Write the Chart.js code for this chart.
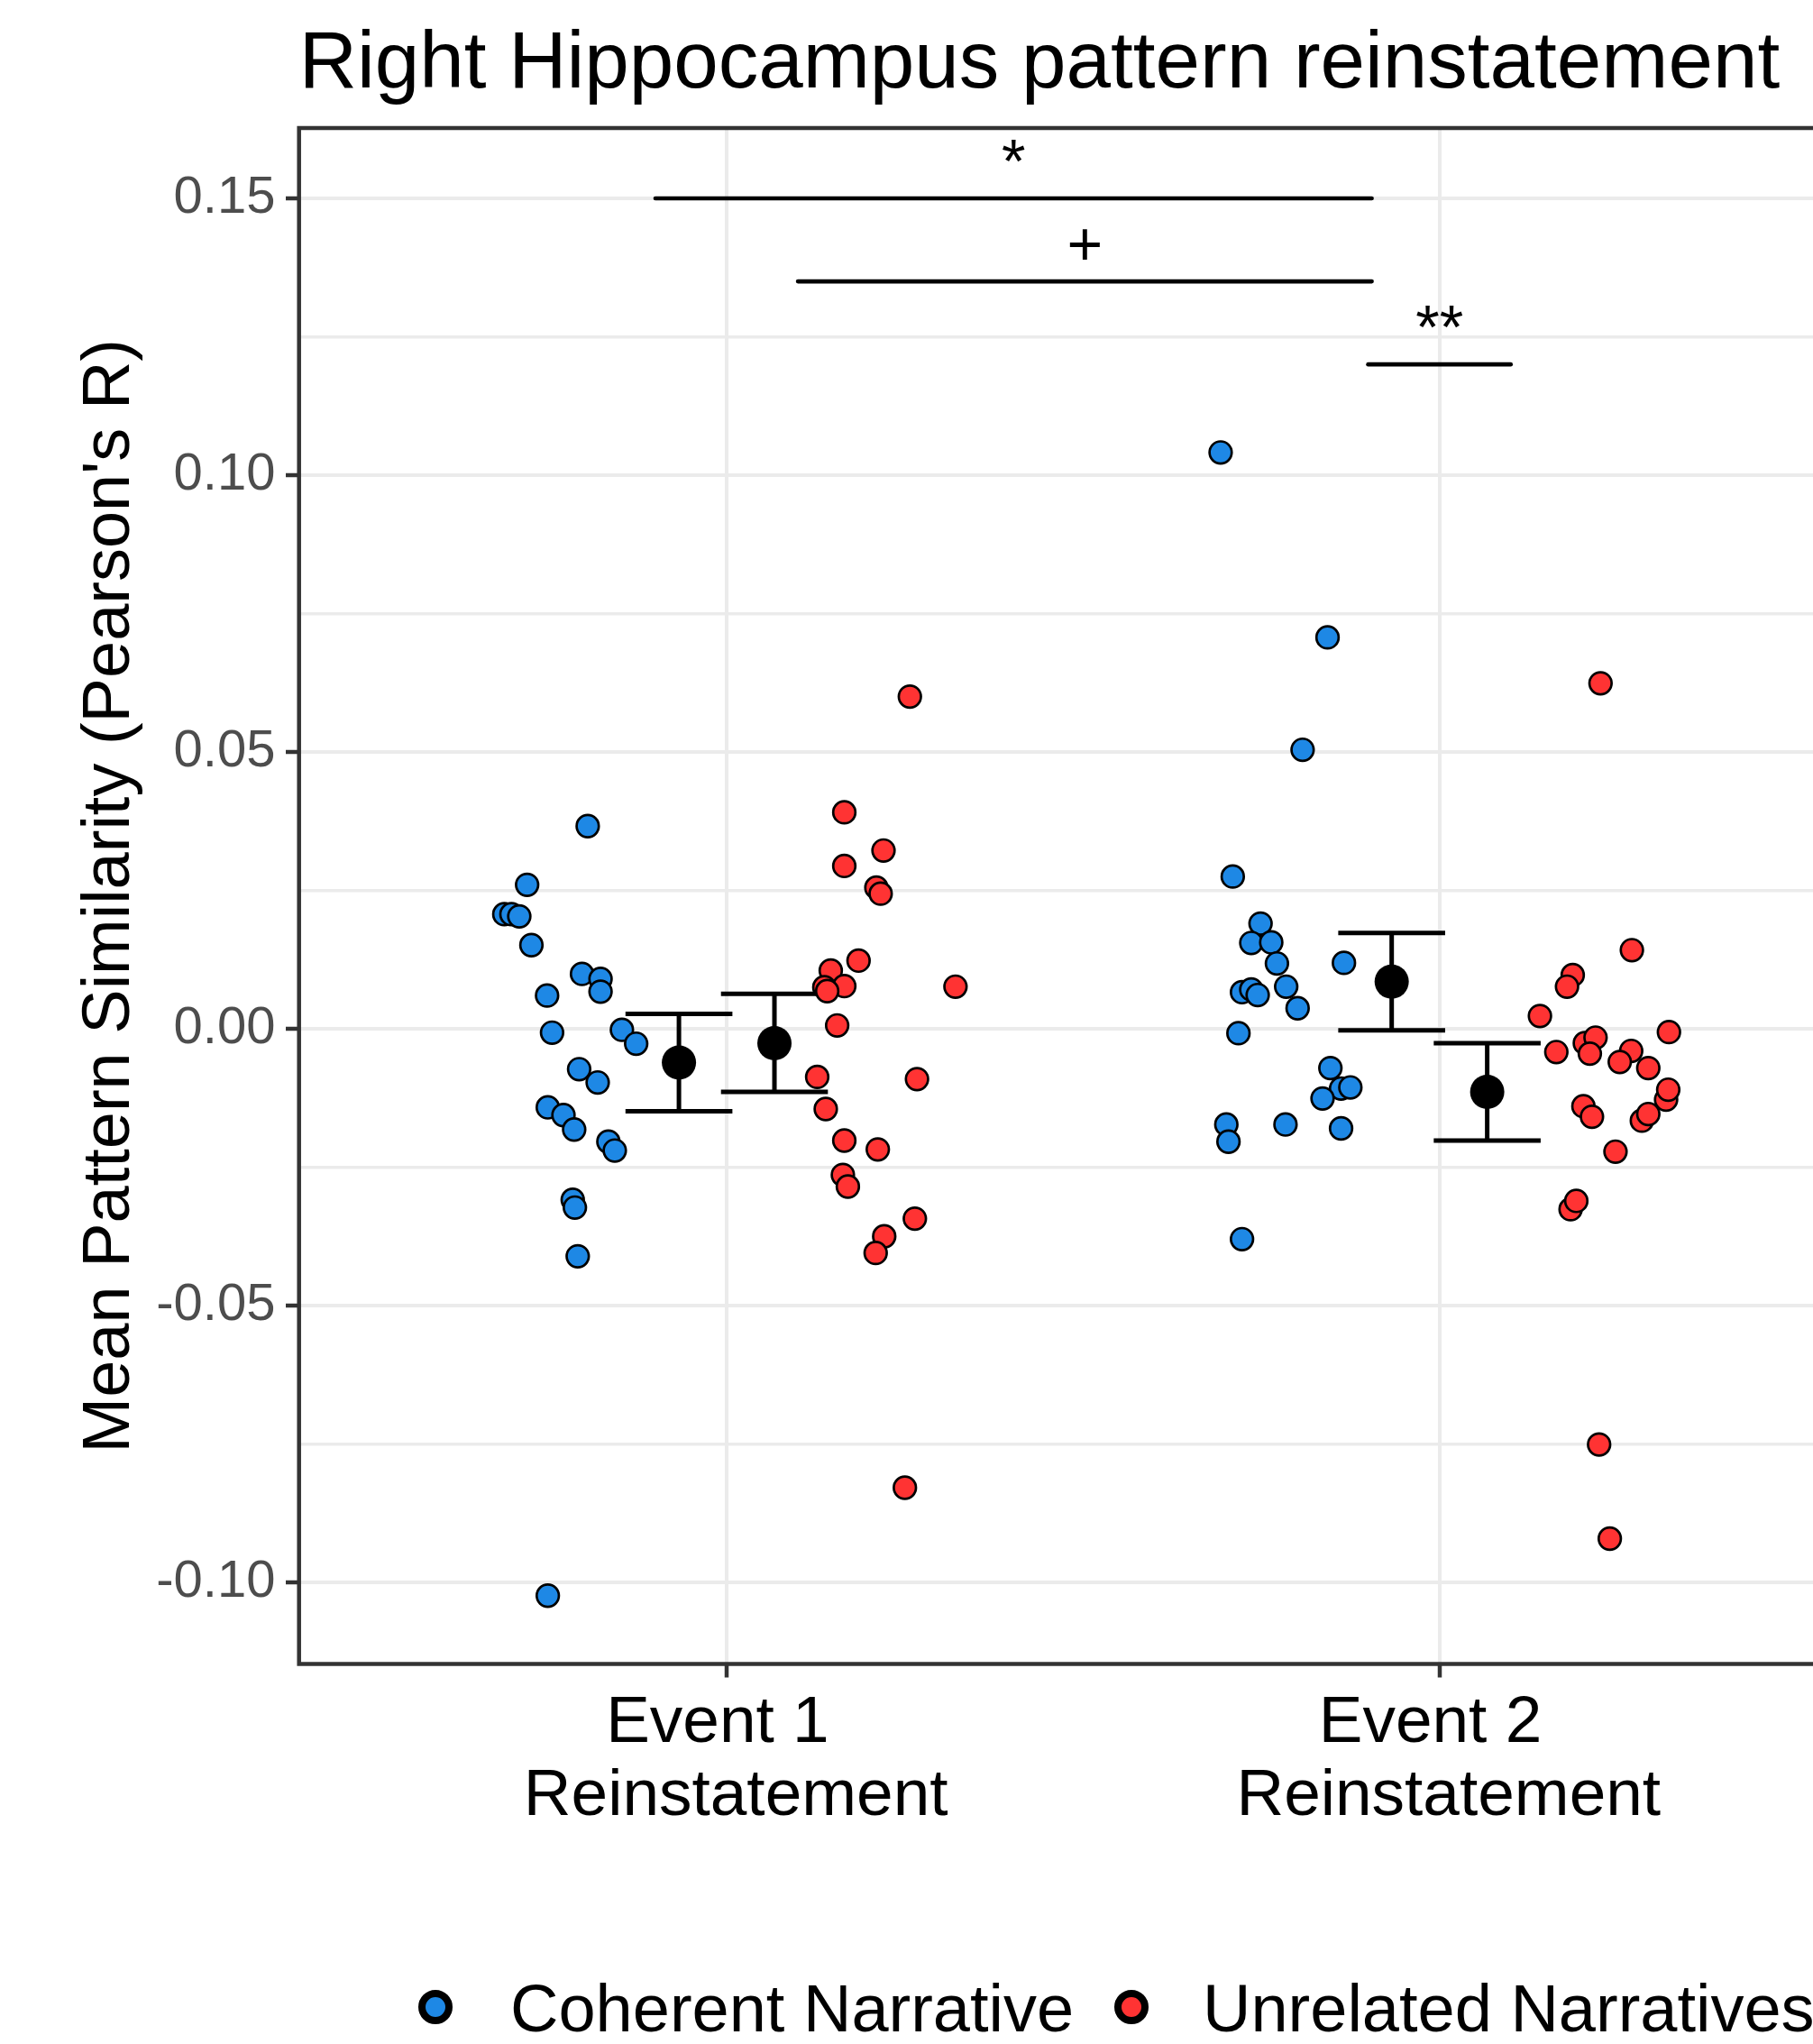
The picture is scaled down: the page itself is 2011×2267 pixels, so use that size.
<!DOCTYPE html>
<html>
<head>
<meta charset="utf-8">
<script src="https://cdn.jsdelivr.net/npm/chart.js@4.4.1/dist/chart.umd.min.js"></script>
<style>
  html, body { margin: 0; padding: 0; background: #fff; overflow: hidden; }
  canvas { display: block; }
</style>
</head>
<body>
<canvas id="chart" width="2090" height="2267"></canvas>
<script>
// categories on the x axis (1 = Event 1, 2 = Event 2)
const categories = [['Event 1 ', ' Reinstatement'], ['Event 2 ', ' Reinstatement']];
const categoryX = [1, 2];
const seriesNames = ['Coherent Narrative', 'Unrelated Narratives'];

// y axis ticks
const yTickValues = [-0.10, -0.05, 0.00, 0.05, 0.10, 0.15];
const yTickLabels = ['-0.10', '-0.05', '0.00', '0.05', '0.10', '0.15'];
const yMinorValues = [-0.075, -0.025, 0.025, 0.075, 0.125];

// jittered subject values
const coherentE1X = [0.805, 0.720, 0.688, 0.698, 0.709, 0.726, 0.797, 0.823, 0.823, 0.748, 0.755, 0.853,
                     0.873, 0.793, 0.819, 0.749, 0.771, 0.786, 0.834, 0.843, 0.784, 0.787, 0.791, 0.749];
const coherentE1Y = [0.0366, 0.0260, 0.0207, 0.0207, 0.0203, 0.0151, 0.0099, 0.0090, 0.0067, 0.0060, -0.0007, -0.0002,
                     -0.0027, -0.0073, -0.0097, -0.0142, -0.0156, -0.0182, -0.0204, -0.0220, -0.0309, -0.0323, -0.0411, -0.1024];

const unrelatedE1X = [1.257, 1.165, 1.220, 1.165, 1.210, 1.216, 1.185, 1.146, 1.165, 1.137, 1.141, 1.321,
                      1.155, 1.127, 1.267, 1.139, 1.165, 1.212, 1.163, 1.170, 1.264, 1.221, 1.209, 1.250];
const unrelatedE1Y = [0.0600, 0.0391, 0.0322, 0.0294, 0.0255, 0.0244, 0.0123, 0.0105, 0.0077, 0.0075, 0.0068, 0.0076,
                      0.0006, -0.0087, -0.0091, -0.0145, -0.0202, -0.0218, -0.0264, -0.0285, -0.0343, -0.0375, -0.0405, -0.0829];

const coherentE2X = [1.693, 1.843, 1.808, 1.710, 1.749, 1.736, 1.764, 1.772, 1.866, 1.723, 1.736, 1.745,
                     1.785, 1.801, 1.718, 1.847, 1.862, 1.875, 1.836, 1.701, 1.704, 1.784, 1.862, 1.723];
const coherentE2Y = [0.1041, 0.0707, 0.0504, 0.0275, 0.0190, 0.0155, 0.0156, 0.0118, 0.0119, 0.0066, 0.0071, 0.0061,
                     0.0076, 0.0037, -0.0008, -0.0071, -0.0108, -0.0106, -0.0126, -0.0173, -0.0204, -0.0173, -0.0180, -0.0380];

const unrelatedE2X = [2.270, 2.187, 2.179, 2.141, 2.322, 2.164, 2.204, 2.219, 2.211, 2.269, 2.253, 2.293,
                      2.318, 2.321, 2.202, 2.214, 2.284, 2.293, 2.247, 2.184, 2.192, 2.226, 2.224, 2.239];
const unrelatedE2Y = [0.0142, 0.0097, 0.0076, 0.0023, -0.0006, -0.0042, -0.0026, -0.0016, -0.0045, -0.0040, -0.0060, -0.0071,
                      -0.0128, -0.0110, -0.0140, -0.0159, -0.0166, -0.0154, -0.0222, -0.0326, -0.0311, 0.0624, -0.0751, -0.0921];

// group means and error bars (coh E1, unr E1, coh E2, unr E2)
const summaryX = [0.933, 1.067, 1.933, 2.067];
const summaryMean = [-0.0061, -0.0026, 0.0085, -0.0114];
const summaryLow = [-0.0149, -0.0114, -0.0003, -0.0202];
const summaryHigh = [0.0027, 0.0063, 0.0173, -0.0026];

// significance brackets
const sigFrom = [0.9, 1.1, 1.9];
const sigTo = [1.905, 1.905, 2.1];
const sigY = [0.150, 0.135, 0.120];
const sigText = ['*', '+', '**'];

const BLUE = '#1E88E5';
const RED = '#FF3333';
const FONT = 'Liberation Sans';

function toPoints(xs, ys) {
    return xs.map((x, i) => ({ x: x, y: ys[i] }));
}

function isMajorY(v) {
    return yTickValues.some(t => Math.abs(t - v) < 1e-9);
}

function pointSet(name, data, color) {
    return {
        label: name,
        data: data,
        pointBackgroundColor: color,
        pointBorderColor: '#000',
        pointBorderWidth: 2.7,
        pointRadius: 12.3,
        pointHoverRadius: 12.3,
        order: 1
    };
}

const bracketSets = sigY.map((y, i) => ({
    label: 'sig' + i,
    data: [{ x: sigFrom[i], y: y }, { x: sigTo[i], y: y }],
    showLine: true,
    borderColor: '#000',
    borderWidth: 4.7,
    borderCapStyle: 'round',
    pointRadius: 0,
    pointHoverRadius: 0,
    order: 5
}));

const decorations = {
    id: 'decorations',
    beforeDatasetsDraw(chart) {
        const ctx = chart.ctx;
        const xs = chart.scales.x, ys = chart.scales.y;
        ctx.save();
        ctx.strokeStyle = '#000';
        ctx.lineWidth = 5;
        ctx.lineCap = 'butt';
        summaryX.forEach((x, i) => {
            const px = xs.getPixelForValue(x);
            const pl = xs.getPixelForValue(x - 0.075);
            const pr = xs.getPixelForValue(x + 0.075);
            const hi = ys.getPixelForValue(summaryHigh[i]);
            const lo = ys.getPixelForValue(summaryLow[i]);
            ctx.beginPath();
            ctx.moveTo(px, hi); ctx.lineTo(px, lo);
            ctx.moveTo(pl, hi); ctx.lineTo(pr, hi);
            ctx.moveTo(pl, lo); ctx.lineTo(pr, lo);
            ctx.stroke();
        });
        ctx.restore();
    },
    afterDatasetsDraw(chart) {
        const ctx = chart.ctx;
        const a = chart.chartArea;
        const xs = chart.scales.x, ys = chart.scales.y;
        ctx.save();
        // significance labels
        ctx.fillStyle = '#000';
        ctx.font = '68px "' + FONT + '"';
        ctx.textAlign = 'center';
        ctx.textBaseline = 'alphabetic';
        sigText.forEach((t, i) => {
            const cx = xs.getPixelForValue((sigFrom[i] + sigTo[i]) / 2);
            ctx.fillText(t, cx, ys.getPixelForValue(sigY[i]) - 18);
        });
        // panel border
        ctx.strokeStyle = '#333333';
        ctx.lineWidth = 4.5;
        ctx.strokeRect(a.left, a.top, a.right - a.left, a.bottom - a.top);
        ctx.restore();
    },
    afterDraw(chart) {
        const ctx = chart.ctx;
        const a = chart.chartArea;
        ctx.save();
        ctx.fillStyle = '#000';
        // title
        ctx.font = '89px "' + FONT + '"';
        ctx.textAlign = 'left';
        ctx.textBaseline = 'alphabetic';
        ctx.fillText('Right Hippocampus pattern reinstatement', a.left, 97);
        // y axis title
        ctx.save();
        ctx.translate(143, (a.top + a.bottom) / 2);
        ctx.rotate(-Math.PI / 2);
        ctx.font = '74px "' + FONT + '"';
        ctx.textAlign = 'center';
        ctx.fillText("Mean Pattern Similarity (Pearson's R)", 0, 0);
        ctx.restore();
        // legend
        const legendX = [483, 1255];
        const legendTextX = [566, 1334];
        const colors = [BLUE, RED];
        ctx.font = '74px "' + FONT + '"';
        ctx.textAlign = 'left';
        seriesNames.forEach((name, i) => {
            ctx.beginPath();
            ctx.arc(legendX[i], 2226, 15, 0, Math.PI * 2);
            ctx.fillStyle = colors[i];
            ctx.fill();
            ctx.lineWidth = 8;
            ctx.strokeStyle = '#000';
            ctx.stroke();
            ctx.fillStyle = '#000';
            ctx.fillText(name, legendTextX[i], 2253);
        });
        ctx.restore();
    }
};

const ctx = document.getElementById('chart');
new Chart(ctx, {
    type: 'scatter',
    data: {
        datasets: [
            pointSet(seriesNames[0], toPoints(coherentE1X, coherentE1Y), BLUE),
            pointSet(seriesNames[1], toPoints(unrelatedE1X, unrelatedE1Y), RED),
            pointSet(seriesNames[0], toPoints(coherentE2X, coherentE2Y), BLUE),
            pointSet(seriesNames[1], toPoints(unrelatedE2X, unrelatedE2Y), RED),
            {
                label: 'mean',
                data: toPoints(summaryX, summaryMean),
                pointBackgroundColor: '#000',
                pointBorderColor: '#000',
                pointBorderWidth: 0,
                pointRadius: 19,
                pointHoverRadius: 19,
                order: 3
            },
            ...bracketSets
        ]
    },
    options: {
        responsive: false,
        animation: false,
        devicePixelRatio: 1,
        events: [],
        layout: { padding: { top: 142, right: 16.7, left: 0, bottom: 0 } },
        plugins: {
            legend: { display: false },
            tooltip: { enabled: false }
        },
        scales: {
            x: {
                type: 'linear',
                min: 0.4,
                max: 2.6,
                afterBuildTicks: s => { s.ticks = categoryX.map(v => ({ value: v })); },
                afterFit: s => { s.height = 2267 - 1845.5; },
                border: { display: false },
                grid: {
                    color: '#EBEBEB',
                    lineWidth: 4,
                    tickColor: '#333333',
                    tickWidth: 4.5,
                    tickLength: 15
                },
                ticks: {
                    autoSkip: false,
                    maxRotation: 0,
                    minRotation: 0,
                    padding: 11,
                    color: '#000',
                    font: { family: FONT, size: 73, lineHeight: 81 / 73 },
                    callback: (v, i) => categories[i]
                }
            },
            y: {
                type: 'linear',
                min: -0.11474,
                max: 0.16270,
                afterBuildTicks: s => {
                    s.ticks = yTickValues.concat(yMinorValues).sort((a, b) => a - b).map(v => ({ value: v }));
                },
                afterFit: s => { s.width = 331.7; },
                border: { display: false },
                grid: {
                    color: '#EBEBEB',
                    lineWidth: c => (c.tick && isMajorY(c.tick.value)) ? 4 : 3.5,
                    tickColor: c => (c.tick && isMajorY(c.tick.value)) ? '#333333' : 'rgba(0,0,0,0)',
                    tickWidth: 4.5,
                    tickLength: 14.7
                },
                ticks: {
                    padding: 11.5,
                    color: '#4D4D4D',
                    font: { family: FONT, size: 58 },
                    callback: v => {
                        const i = yTickValues.findIndex(t => Math.abs(t - v) < 1e-9);
                        return i >= 0 ? yTickLabels[i] : '';
                    }
                }
            }
        }
    },
    plugins: [decorations]
});
</script>
</body>
</html>
